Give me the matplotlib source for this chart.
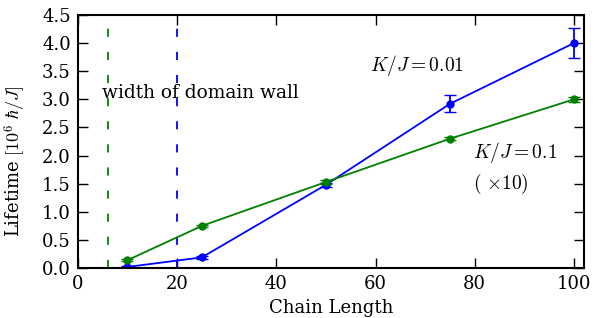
import matplotlib
matplotlib.use("Agg")
import matplotlib.pyplot as plt

# data
chain_length = [10, 25, 50, 75, 100]
life_k001 = [0.02, 0.19, 1.48, 2.92, 4.00]
err_k001 = [0.01, 0.02, 0.04, 0.15, 0.27]
life_k01 = [0.14, 0.75, 1.53, 2.30, 3.00]
err_k01 = [0.02, 0.02, 0.03, 0.03, 0.04]
wall_green = 6
wall_blue = 20

plt.rcParams["font.family"] = "DejaVu Serif"
plt.rcParams["mathtext.fontset"] = "cm"
plt.rcParams["font.size"] = 13

fig = plt.figure(figsize=(5.94, 3.18), dpi=100)
ax = fig.add_axes([0.131, 0.157, 0.852, 0.796])

ax.errorbar(chain_length, life_k001, yerr=err_k001, color="blue", marker="o",
            markersize=5, linewidth=1.3, capsize=4, elinewidth=1.3)
ax.errorbar(chain_length, life_k01, yerr=err_k01, color="green", marker="o",
            markersize=5, linewidth=1.3, capsize=4, elinewidth=1.3)

ax.axvline(wall_green, color="green", linestyle="--", dashes=(4.5, 8.3), linewidth=1.3)
ax.axvline(wall_blue, color="blue", linestyle="--", dashes=(4.5, 8.3), linewidth=1.3)

ax.text(4.8, 3.11, "width of domain wall", ha="left", va="center", fontsize=13.4)
ax.text(58.9, 3.6, r"$K/J=0.01$", ha="left", va="center", fontsize=14)
ax.text(79.6, 2.05, r"$K/J=0.1$", ha="left", va="center", fontsize=14)
ax.text(79.6, 1.5, r"$(\ {\times}10)$", ha="left", va="center", fontsize=14)

ax.set_xlim(0, 102)
ax.set_ylim(0, 4.5)
ax.set_xticks([0, 20, 40, 60, 80, 100])
ax.set_yticks([0, 0.5, 1.0, 1.5, 2.0, 2.5, 3.0, 3.5, 4.0, 4.5])
ax.set_yticklabels(["0.0", "0.5", "1.0", "1.5", "2.0", "2.5", "3.0", "3.5", "4.0", "4.5"])
ax.tick_params(direction="in", top=True, right=True, length=7, width=1, pad=5)
for s in ax.spines.values():
    s.set_linewidth(1.5)

ax.set_xlabel("Chain Length")
ax.set_ylabel(r"Lifetime $[10^6\ \hbar/J]$")
ax.yaxis.set_label_coords(-0.098, 0.42)

fig.savefig("out.png", dpi=100)
